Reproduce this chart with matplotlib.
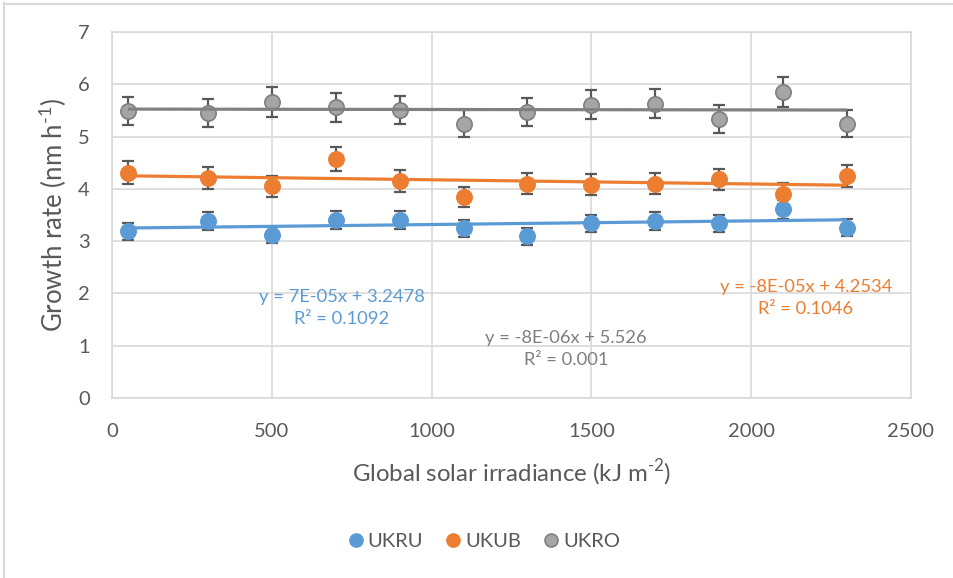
import numpy as np
import matplotlib
matplotlib.use("Agg")
import matplotlib.pyplot as plt
from matplotlib.lines import Line2D

plt.rcParams['font.family'] = ['Lato', 'DejaVu Sans']
plt.rcParams['mathtext.fontset'] = 'custom'
plt.rcParams['mathtext.rm'] = 'Lato'

# Measurements
irradiance = [50, 300, 500, 700, 900, 1100, 1300, 1500, 1700, 1900, 2100, 2300]
ukru = [3.19, 3.39, 3.12, 3.40, 3.40, 3.25, 3.09, 3.34, 3.39, 3.34, 3.61, 3.26]
ukub = [4.31, 4.21, 4.05, 4.57, 4.15, 3.84, 4.10, 4.08, 4.10, 4.18, 3.91, 4.25]
ukro = [5.49, 5.45, 5.66, 5.56, 5.51, 5.25, 5.47, 5.61, 5.63, 5.34, 5.85, 5.25]
err_percent = 5  # percentage error bars

# Linear trendlines (slope, intercept, R²)
fit_ukru = (7e-05, 3.2478, 0.1092)
fit_ukub = (-8e-05, 4.2534, 0.1046)
fit_ukro = (-8e-06, 5.526, 0.001)

names = ["UKRU", "UKUB", "UKRO"]
xticks = [0, 500, 1000, 1500, 2000, 2500]
yticks = [0, 1, 2, 3, 4, 5, 6, 7]

W, H = 954, 578
fig = plt.figure(figsize=(W / 100, H / 100), dpi=100)
ax = fig.add_axes([112 / W, (H - 398) / H, 799 / W, 366 / H])

text_c = "#595959"
grid_c = "#D9D9D9"
colors = ["#5B9BD5", "#ED7D31", "#A5A5A5"]
edges = ["#5B9BD5", "#ED7D31", "#7F7F7F"]
trend_c = ["#5B9BD5", "#ED7D31", "#808080"]

x = np.array(irradiance, dtype=float)
series = [ukru, ukub, ukro]
fits = [fit_ukru, fit_ukub, fit_ukro]

for i, (vals, fit) in enumerate(zip(series, fits)):
    y = np.array(vals)
    ax.errorbar(x, y, yerr=y * err_percent / 100, fmt='none', ecolor="#595959",
                elinewidth=1.6, capsize=4.3, capthick=1.6, zorder=3)
    ax.plot(x, y, 'o', ms=11, color=colors[i], mec=edges[i], mew=1.2, zorder=4,
            label=names[i])
    xs = np.array([x.min(), x.max()])
    ax.plot(xs, fit[0] * xs + fit[1], color=trend_c[i], lw=2.3, zorder=5,
            solid_capstyle='butt')

ax.set_xlim(0, 2500)
ax.set_ylim(0, 7)
ax.set_xticks(xticks)
ax.set_yticks(yticks)
ax.grid(True, color=grid_c, lw=1.2)
ax.set_axisbelow(True)
for s in ax.spines.values():
    s.set_color(grid_c)
    s.set_linewidth(1.2)
ax.tick_params(length=0, labelsize=14.5, colors=text_c)
ax.tick_params(axis='x', pad=18)
ax.tick_params(axis='y', pad=16)

ax.set_xlabel(r"Global solar irradiance (kJ m$^{\text{-2}}$)", fontsize=17.3,
              color=text_c)
ax.set_ylabel(r"Growth rate (nm h$^{\text{-1}}$)", fontsize=18.5,
              color=text_c)
ax.xaxis.set_label_coords(0.5, (398 - 457) / 366)
ax.yaxis.set_label_coords((69 - 112) / 799, 0.5)


def eq_text(fit):
    a, b, r2 = fit
    sa = f"{a:.0E}"
    sign = "+" if b >= 0 else "-"
    return f"y = {sa}x {sign} {abs(b):g}\nR² = {r2:g}"


label_pos = [(342, 308), (806, 298), (566, 349)]
eq_colors = ["#5B9BD5", "#ED7D31", "#7F7F7F"]
for fit, (px, py), c in zip(fits, label_pos, eq_colors):
    fig.text(px / W, 1 - py / H, eq_text(fit), ha='center', va='center',
             fontsize=13.2, color=c, linespacing=1.5)

leg = fig.legend(loc='center', bbox_to_anchor=(483 / W, 1 - 541 / H), ncol=3,
                 frameon=False, fontsize=14.5, handletextpad=0.1, columnspacing=1.0,
                 handlelength=1.0, markerscale=0.85)
for t in leg.get_texts():
    t.set_color(text_c)

# chart area border
fig.add_artist(Line2D([4.5 / W, 4.5 / W], [0, 1 - 3 / H], color=grid_c, lw=1.5))
fig.add_artist(Line2D([4.5 / W, 1], [1 - 3.5 / H, 1 - 3.5 / H], color=grid_c, lw=1.5))

fig.savefig("out.png", dpi=100)
